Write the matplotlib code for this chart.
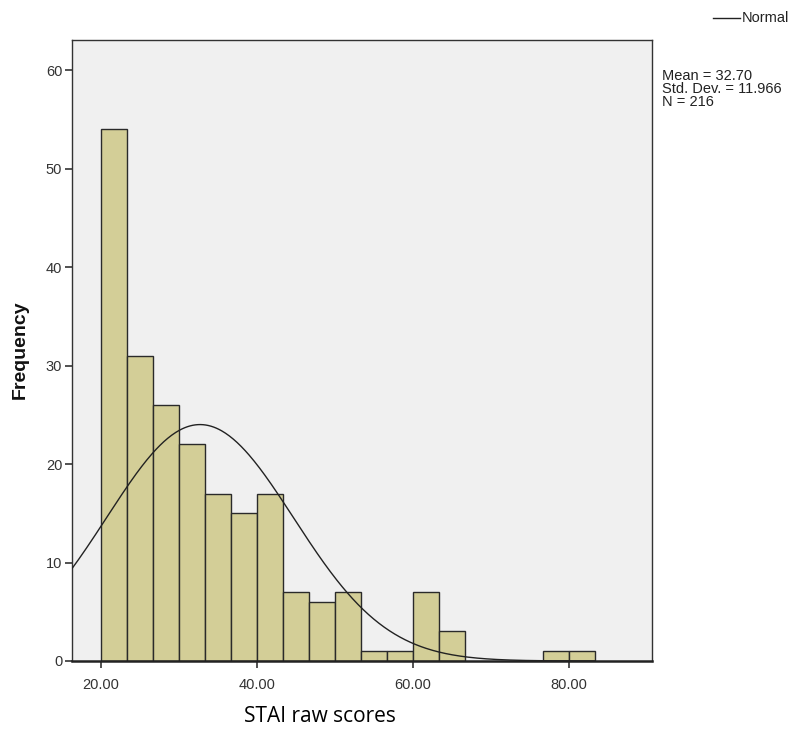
import numpy as np
import matplotlib
matplotlib.use("Agg")
import matplotlib.pyplot as plt

# Data
bin_start = 20.0
bin_width = 63.333 / 19
counts = [54, 31, 26, 22, 17, 15, 17, 7, 6, 7, 1, 1, 7, 3, 0, 0, 0, 1, 1]
mean = 32.70
std = 11.966
n = 216
xticks = [20, 40, 60, 80]
xtick_labels = ["20.00", "40.00", "60.00", "80.00"]
yticks = [0, 10, 20, 30, 40, 50, 60]

plt.rcParams['font.family'] = ['Liberation Sans', 'DejaVu Sans']

fig = plt.figure(figsize=(7.93, 7.33), dpi=100)
ax = fig.add_axes([72/793, 1-661/733, (652-72)/793, (661-40)/733])
ax.set_facecolor('#F0F0F0')

edges = bin_start + bin_width * np.arange(len(counts) + 1)
lefts = edges[:-1]
for l, c in zip(lefts, counts):
    if c > 0:
        ax.bar(l, c, width=bin_width, align='edge', color='#D3CE97',
               edgecolor='#2a2a2a', linewidth=1.0, zorder=2)

xlim = (16.3, 90.6)
xs = np.linspace(xlim[0], edges[-1], 400)
ys = n * bin_width * np.exp(-0.5 * ((xs - mean) / std) ** 2) / (std * np.sqrt(2 * np.pi))
ax.plot(xs, ys, color='#222222', linewidth=1.0, zorder=3)

ax.set_xlim(*xlim)
ax.set_ylim(0, 63.05)
ax.set_xticks(xticks)
ax.set_xticklabels(xtick_labels)
ax.set_yticks(yticks)
ax.tick_params(axis='both', labelsize=10.5, colors='#333333', length=5, width=1.2)
ax.tick_params(axis='x', pad=7)
ax.tick_params(axis='y', pad=2)
for s in ['top', 'right', 'left']:
    ax.spines[s].set_color('#333333')
    ax.spines[s].set_linewidth(1.0)
ax.spines['bottom'].set_color('#222222')
ax.spines['bottom'].set_linewidth(1.8)

fig.text(20/793, 1-350/733, 'Frequency', rotation=90, ha='center', va='center',
         fontsize=14, fontweight='bold', color='#111111')
fig.text(320/793, 1-717/733, 'STAI raw scores', ha='center', va='center',
         fontsize=15, family=['Open Sans', 'DejaVu Sans'])

# Legend line
fig.add_artist(plt.Line2D([713/793, 740/793], [1-18/733, 1-18/733],
                          color='#222222', linewidth=1.0))
fig.text(742/793, 1-18/733, 'Normal', ha='left', va='center', fontsize=10.5, color='#222222')
fig.text(662/793, 1-89/733, 'Mean = 32.70\nStd. Dev. = 11.966\nN = 216',
         ha='left', va='center', fontsize=10.5, color='#222222', linespacing=0.92)

fig.savefig('out.png', dpi=100)
